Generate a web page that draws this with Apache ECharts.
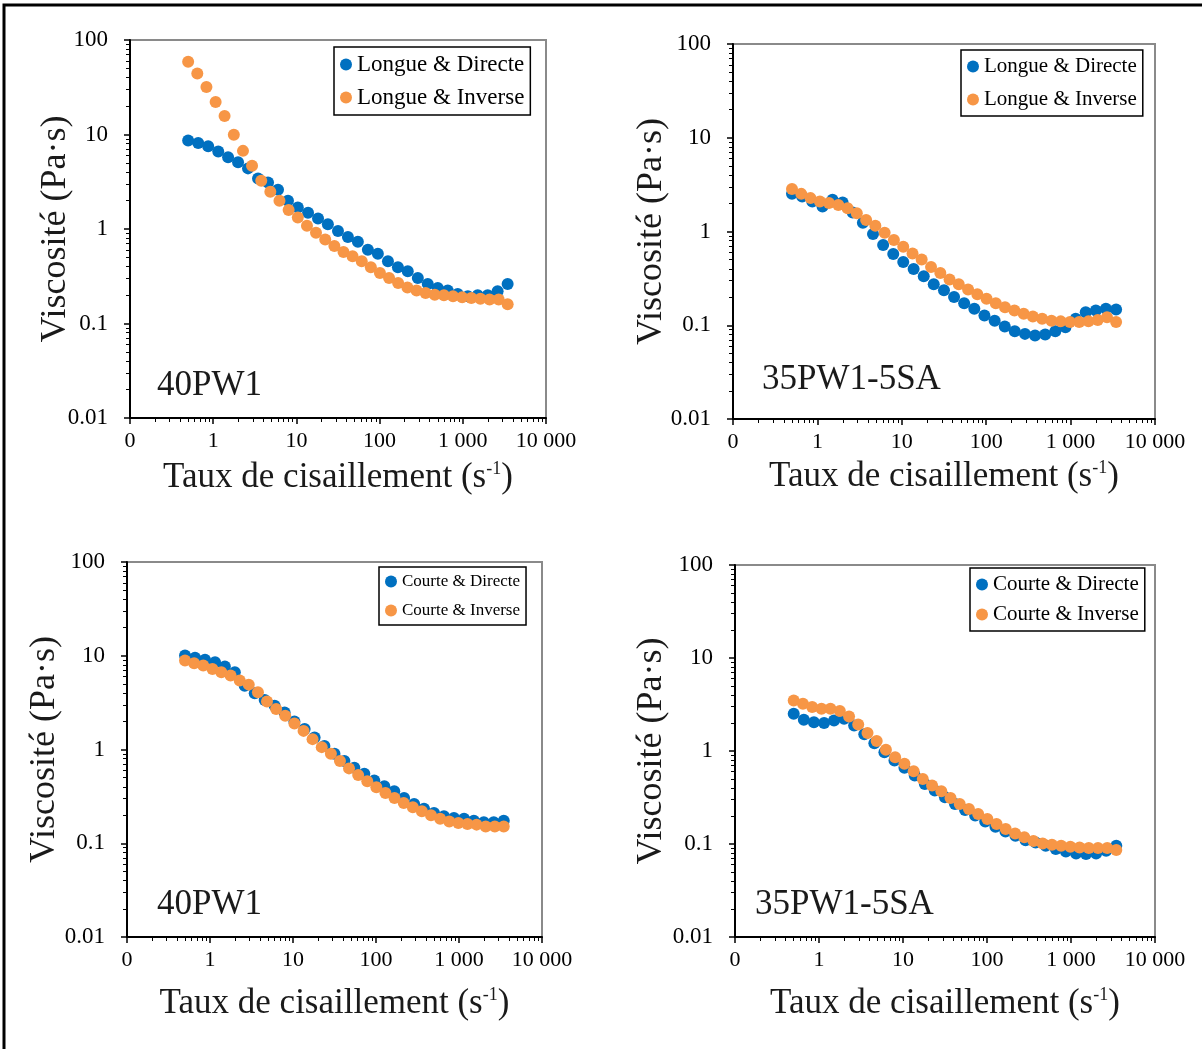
<!DOCTYPE html>
<html><head><meta charset="utf-8">
<script src="https://cdn.jsdelivr.net/npm/echarts@6/dist/echarts.min.js"></script>
<style>html,body{margin:0;padding:0;background:#fff}#c{width:1202px;height:1049px}</style>
</head><body><div id="c"></div>
<script>
// Shear rates (s^-1)
const shearDirecte = [0.5, 0.66, 0.87, 1.15, 1.51, 1.99, 2.62, 3.46, 4.56, 6.01, 7.92, 10.4, 13.8, 18.2, 23.9, 31.6, 41.6, 54.8, 72.3, 95.3, 126, 166, 218, 288, 379, 500, 659, 869, 1150, 1510, 1990, 2620, 3460];
const shearInverse = [0.5, 0.644, 0.829, 1.07, 1.37, 1.77, 2.28, 2.93, 3.78, 4.86, 6.26, 8.06, 10.4, 13.4, 17.2, 22.2, 28.6, 36.8, 47.3, 61.0, 78.5, 101, 130, 167, 216, 278, 357, 460, 593, 763, 982, 1265, 1628, 2097, 2700, 3460];

// Viscosity (Pa·s)
const p1Directe = [8.63, 8.15, 7.51, 6.59, 5.74, 5.08, 4.38, 3.43, 3.11, 2.60, 1.99, 1.69, 1.49, 1.29, 1.12, 0.953, 0.822, 0.733, 0.602, 0.546, 0.457, 0.394, 0.357, 0.303, 0.262, 0.238, 0.223, 0.205, 0.194, 0.199, 0.199, 0.219, 0.262];
const p1Inverse = [58.8, 44.2, 31.9, 22.1, 15.7, 9.93, 6.71, 4.68, 3.24, 2.48, 1.99, 1.59, 1.32, 1.08, 0.914, 0.776, 0.659, 0.572, 0.516, 0.457, 0.394, 0.343, 0.303, 0.268, 0.241, 0.223, 0.210, 0.202, 0.199, 0.194, 0.189, 0.186, 0.183, 0.179, 0.179, 0.160];
const p2Directe = [2.52, 2.36, 2.09, 1.85, 2.18, 2.04, 1.59, 1.24, 0.940, 0.716, 0.574, 0.474, 0.399, 0.333, 0.274, 0.236, 0.200, 0.172, 0.150, 0.127, 0.112, 0.0970, 0.0863, 0.0809, 0.0776, 0.0796, 0.0863, 0.0953, 0.117, 0.138, 0.144, 0.150, 0.147];
const p2Inverse = [2.84, 2.52, 2.27, 2.09, 2.01, 1.92, 1.77, 1.57, 1.33, 1.15, 0.971, 0.811, 0.687, 0.583, 0.503, 0.419, 0.361, 0.307, 0.274, 0.240, 0.214, 0.192, 0.172, 0.156, 0.144, 0.133, 0.124, 0.117, 0.112, 0.110, 0.108, 0.108, 0.110, 0.114, 0.122, 0.108];
const p3Directe = [10.07, 9.51, 9.05, 8.53, 7.67, 6.66, 4.80, 3.97, 3.37, 2.93, 2.48, 1.99, 1.65, 1.34, 1.09, 0.902, 0.753, 0.638, 0.551, 0.468, 0.406, 0.359, 0.304, 0.262, 0.234, 0.210, 0.194, 0.186, 0.183, 0.174, 0.168, 0.168, 0.174];
const p3Inverse = [8.89, 8.32, 7.86, 7.24, 6.66, 6.14, 5.43, 4.92, 4.07, 3.26, 2.70, 2.29, 1.89, 1.58, 1.29, 1.06, 0.902, 0.753, 0.629, 0.533, 0.459, 0.396, 0.344, 0.304, 0.269, 0.242, 0.219, 0.199, 0.183, 0.171, 0.164, 0.160, 0.158, 0.151, 0.151, 0.151];
const p4Directe = [2.52, 2.17, 2.04, 2.00, 2.13, 2.22, 1.88, 1.51, 1.21, 0.970, 0.791, 0.659, 0.544, 0.443, 0.375, 0.318, 0.270, 0.232, 0.202, 0.175, 0.153, 0.136, 0.123, 0.110, 0.104, 0.0958, 0.0883, 0.0832, 0.0791, 0.0780, 0.0791, 0.0845, 0.0958];
const p4Inverse = [3.50, 3.23, 2.97, 2.85, 2.85, 2.69, 2.35, 1.93, 1.56, 1.28, 1.03, 0.857, 0.728, 0.605, 0.501, 0.425, 0.369, 0.313, 0.270, 0.238, 0.210, 0.186, 0.164, 0.145, 0.130, 0.118, 0.108, 0.101, 0.0982, 0.0958, 0.0934, 0.0918, 0.0904, 0.0904, 0.0904, 0.0861];

// Tick labels
const xTickValues = [0.1, 1, 10, 100, 1000, 10000];
const xTickLabels = ['0', '1', '10', '100', '1 000', '10 000'];
const yTickValues = [0.01, 0.1, 1, 10, 100];
const yTickLabels = ['0.01', '0.1', '1', '10', '100'];

const panelTitles = ['40PW1', '35PW1-5SA', '40PW1', '35PW1-5SA'];
const seriesNames = [
  ['Longue & Directe', 'Longue & Inverse'],
  ['Longue & Directe', 'Longue & Inverse'],
  ['Courte & Directe', 'Courte & Inverse'],
  ['Courte & Directe', 'Courte & Inverse']
];
const panelData = [[p1Directe, p1Inverse], [p2Directe, p2Inverse], [p3Directe, p3Inverse], [p4Directe, p4Inverse]];

const BLUE = '#0070C0', ORANGE = '#F79646';
const SERIF = '"Liberation Serif", "Times New Roman", serif';

function fmt(values, labels) {
  return function (v) {
    const lv = Math.log10(v);
    for (let i = 0; i < values.length; i++) {
      if (Math.abs(Math.log10(values[i]) - lv) < 1e-6) return labels[i];
    }
    return '';
  };
}

const layout = [
  {grid: {left: 130, top: 40, width: 416, height: 378}, xGap: 42, yGap: 56, legend: {left: 334, top: 47, fs: 23, gap: 10}, ann: [157, 388]},
  {grid: {left: 733, top: 44, width: 422, height: 375}, xGap: 40, yGap: 63, legend: {left: 961, top: 50, fs: 21, gap: 12}, ann: [762, 382]},
  {grid: {left: 127, top: 562, width: 415, height: 375}, xGap: 49, yGap: 64, legend: {left: 379, top: 567, fs: 17, gap: 12}, ann: [157, 907]},
  {grid: {left: 735, top: 565, width: 420, height: 372}, xGap: 49, yGap: 65, legend: {left: 970, top: 568, fs: 21, gap: 9}, ann: [755, 907]}
];

const grids = [], xAxes = [], yAxes = [], series = [], legends = [], graphics = [];

layout.forEach((L, i) => {
  grids.push(Object.assign({show: true, borderColor: '#8a8a8a', borderWidth: 2, backgroundColor: '#fff', containLabel: false}, L.grid));
  xAxes.push({
    type: 'log', logBase: 10, gridIndex: i, min: 0.1, max: 10000, splitNumber: 5,
    name: 'Taux de cisaillement (s{sup|-1})', nameLocation: 'middle', nameGap: L.xGap,
    nameTextStyle: {fontFamily: SERIF, fontSize: 35, color: '#1a1a1a',
      rich: {sup: {fontFamily: SERIF, fontSize: 18, verticalAlign: 'top', color: '#1a1a1a', padding: [0, 0, 12, 0]}}},
    axisLine: {show: true, lineStyle: {color: '#000', width: 2}},
    axisTick: {show: true, length: 6, lineStyle: {color: '#000', width: 1.5}},
    minorTick: {show: true, splitNumber: 9, length: 4, lineStyle: {color: '#000', width: 1}},
    axisLabel: {fontFamily: SERIF, fontSize: 22, color: '#000', margin: 12, formatter: fmt(xTickValues, xTickLabels), showMinLabel: true, showMaxLabel: true},
    splitLine: {show: false}, minorSplitLine: {show: false}
  });
  yAxes.push({
    type: 'log', logBase: 10, gridIndex: i, min: 0.01, max: 100, splitNumber: 4,
    name: 'Viscosité (Pa·s)', nameLocation: 'middle', nameGap: L.yGap, nameRotate: 90,
    nameMoveOverlap: false,
    nameTextStyle: {fontFamily: SERIF, fontSize: 36, color: '#1a1a1a'},
    axisLine: {show: true, lineStyle: {color: '#000', width: 2}},
    axisTick: {show: true, length: 6, lineStyle: {color: '#000', width: 1.5}},
    minorTick: {show: true, splitNumber: 9, length: 4, lineStyle: {color: '#000', width: 1}},
    axisLabel: {fontFamily: SERIF, fontSize: 23, color: '#000', margin: 22, formatter: fmt(yTickValues, yTickLabels), showMinLabel: true, showMaxLabel: true},
    splitLine: {show: false}, minorSplitLine: {show: false}
  });
  const [dir, inv] = panelData[i];
  series.push({
    name: seriesNames[i][0], type: 'scatter', xAxisIndex: i, yAxisIndex: i,
    symbol: 'circle', symbolSize: 12, itemStyle: {color: BLUE, opacity: 1},
    data: shearDirecte.map((x, k) => [x, dir[k]]), z: 2
  });
  series.push({
    name: seriesNames[i][1], type: 'scatter', xAxisIndex: i, yAxisIndex: i,
    symbol: 'circle', symbolSize: 12, itemStyle: {color: ORANGE, opacity: 1},
    data: shearInverse.map((x, k) => [x, inv[k]]), z: 3
  });
  legends.push({
    left: L.legend.left, top: L.legend.top, orient: 'vertical',
    data: seriesNames[i].map(n => ({name: n, icon: 'circle'})),
    itemWidth: 12, itemHeight: 12, itemGap: L.legend.gap,
    padding: [6, 6, 6, 6],
    borderColor: '#000', borderWidth: 1.5, backgroundColor: '#fff',
    textStyle: {fontFamily: SERIF, fontSize: L.legend.fs, color: '#000'},
    selectedMode: false
  });
  graphics.push({
    type: 'text', left: L.ann[0], top: L.ann[1] - 20,
    style: {text: panelTitles[i], font: '35px ' + SERIF, fill: '#1a1a1a'}
  });
});

graphics.push({
  type: 'polyline', shape: {points: [[4, 1060], [4, 5], [1210, 5]]},
  style: {stroke: '#000', lineWidth: 3, fill: null}
});

const chart = echarts.init(document.getElementById('c'), null, {renderer: 'canvas'});
chart.setOption({
  animation: false,
  backgroundColor: '#fff',
  grid: grids, xAxis: xAxes, yAxis: yAxes, series: series, legend: legends,
  graphic: graphics
});
</script></body></html>
